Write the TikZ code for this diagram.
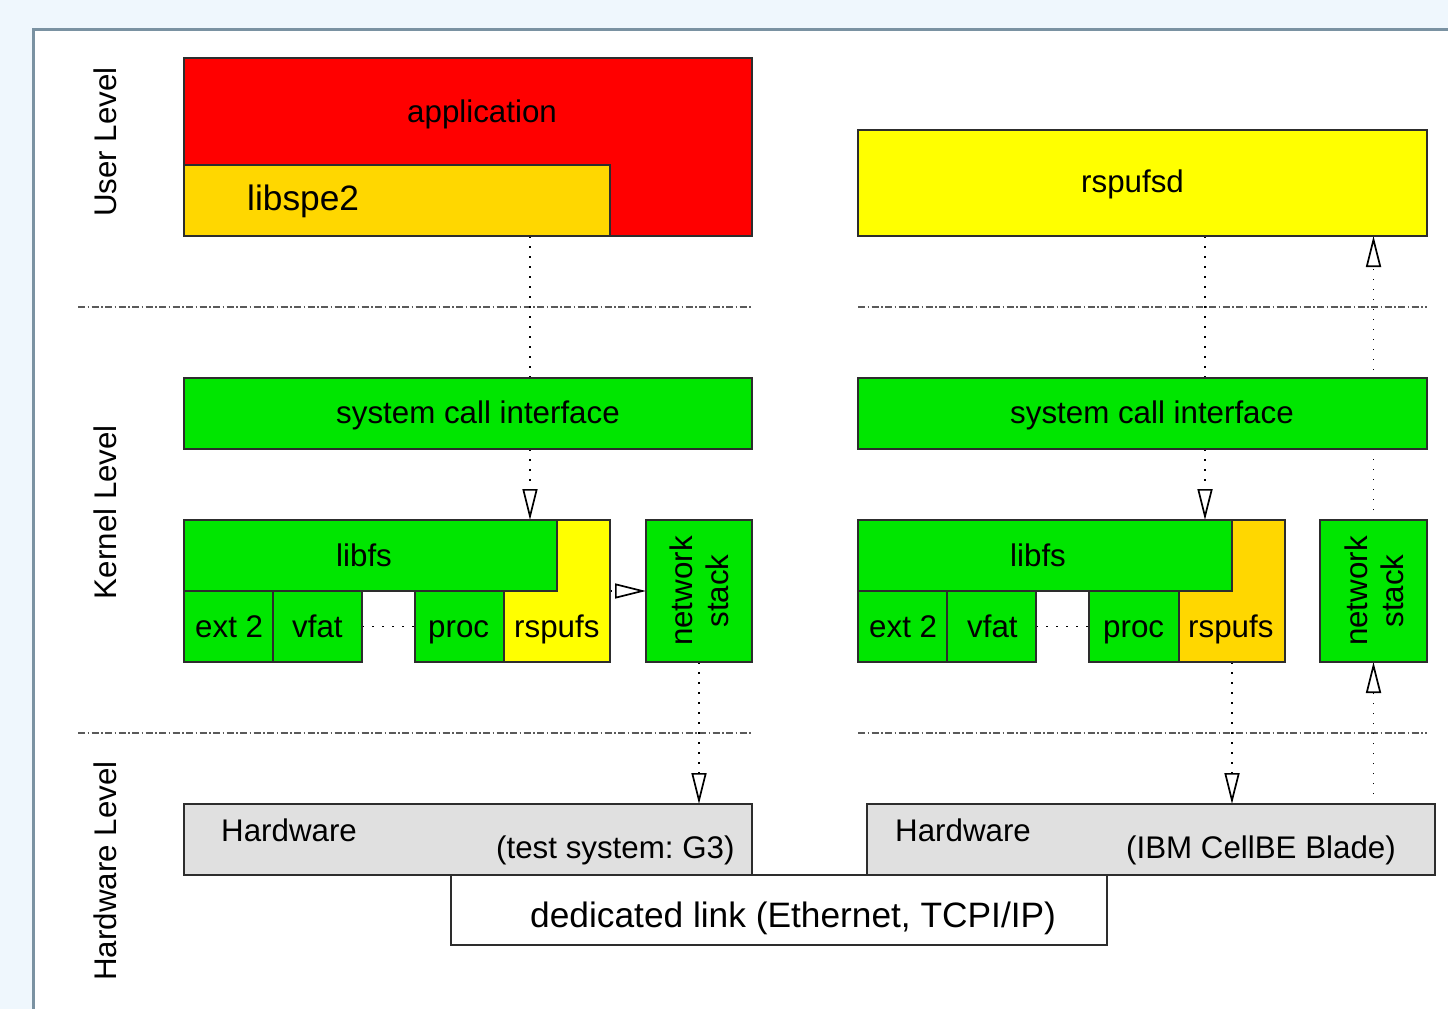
\documentclass[tikz,border=0pt]{standalone}
\usepackage{fontspec}
\setmainfont{Liberation Sans}
\usetikzlibrary{arrows.meta,fit}
\definecolor{pagebg}{RGB}{239,247,253}
\definecolor{framec}{RGB}{122,146,162}
\definecolor{boxgreen}{RGB}{0,230,0}
\definecolor{boxgold}{RGB}{255,215,0}
\definecolor{boxyellow}{RGB}{255,255,0}
\definecolor{boxgrey}{RGB}{224,224,224}
\definecolor{edgec}{RGB}{45,45,45}
\definecolor{sepc}{RGB}{90,90,90}
\pgfdeclarelayer{back}
\pgfdeclarelayer{wires}
\pgfsetlayers{back,wires,main}
\frenchspacing

\begin{document}
\begin{tikzpicture}[x=1pt,y=-1pt,
  box/.style={draw=edgec, line width=1.2pt, inner sep=0pt, outer sep=0pt},
  txt/.style={font=\fontsize{31.3}{36}\selectfont, inner sep=0pt, anchor=base west},
  bigtxt/.style={font=\fontsize{35.3}{40}\selectfont, inner sep=0pt, anchor=base west},
  lvl/.style={font=\fontsize{31.3}{36}\selectfont, rotate=90, anchor=base, inner sep=0pt},
  stacktxt/.style={font=\fontsize{31.3}{36}\selectfont, rotate=90, align=center, anchor=center, inner sep=0pt},
  wire/.style={line width=1.5pt, dash pattern=on 1.5pt off 8.5pt},
  opentip/.tip={Triangle[open, length=31pt, width=15pt, line width=1.7pt]},
  sep/.style={draw=sepc, line width=1.2pt, dash pattern=on 7pt off 2.5pt on 1.5pt off 2.5pt}
]
\useasboundingbox (0,0) rectangle (1448,1009);

% page and frame
\begin{pgfonlayer}{back}
  \fill[pagebg] (0,0) rectangle (1448,1009);
  \filldraw[fill=white, draw=framec, line width=3pt] (33.5,29.5) rectangle (1470,1030);
\end{pgfonlayer}

% level captions
\node[lvl] (luser) at (116,142) {User Level};
\node[lvl] (lkern) at (116,512) {Kernel Level};
\node[lvl] (lhw) at (116,871) {Hardware Level};

% ---------- left machine ----------
\node[box, fill=red, fit={(184,58) (752,236)}] (app) {};
\node[txt] (apptxt) at (407,122) {application};
\node[box, fill=boxgold, fit={(184,165) (610,236)}] (libspe) {};
\node[bigtxt] (libspetxt) at (247,210) {libspe2};

\node[box, fill=boxgreen, fit={(184,378) (752,449)}] (sysL) {};
\node[txt] (sysLtxt) at (336,423) {system call interface};

\node[box, fill=boxyellow, fit={(504,520) (610,662)}] (rspL) {};
\node[box, fill=boxgreen, fit={(184,520) (557,591)}] (libfsL) {};
\node[txt] (libfsLtxt) at (336,566) {libfs};
\node[box, fill=boxgreen, fit={(184,591) (273,662)}] (extL) {};
\node[box, fill=boxgreen, fit={(273,591) (362,662)}] (vfatL) {};
\node[box, fill=boxgreen, fit={(415,591) (504,662)}] (procL) {};
\node[txt] (extLtxt) at (195,637) {ext 2};
\node[txt] (vfatLtxt) at (292,637) {vfat};
\node[txt] (procLtxt) at (428,637) {proc};
\node[txt] (rspLtxt) at (514,637) {rspufs};

\node[box, fill=boxgreen, fit={(646,520) (752,662)}] (netL) {};
\node[stacktxt] (netLtxt) at (699,591) {network\\stack};

\node[box, fill=boxgrey, fit={(184,804) (752,875)}] (hwL) {};
\node[txt] (hwLtxt) at (221,841) {Hardware};
\node[txt] (hwLsub) at (496,858) {(test system: G3)};

% ---------- right machine ----------
\node[box, fill=boxyellow, fit={(858,130) (1427,236)}] (daemon) {};
\node[txt] (daemontxt) at (1081,192) {rspufsd};

\node[box, fill=boxgreen, fit={(858,378) (1427,449)}] (sysR) {};
\node[txt] (sysRtxt) at (1010,423) {system call interface};

\node[box, fill=boxgold, fit={(1179,520) (1285,662)}] (rspR) {};
\node[box, fill=boxgreen, fit={(858,520) (1232,591)}] (libfsR) {};
\node[txt] (libfsRtxt) at (1010,566) {libfs};
\node[box, fill=boxgreen, fit={(858,591) (947,662)}] (extR) {};
\node[box, fill=boxgreen, fit={(947,591) (1036,662)}] (vfatR) {};
\node[box, fill=boxgreen, fit={(1089,591) (1179,662)}] (procR) {};
\node[txt] (extRtxt) at (869,637) {ext 2};
\node[txt] (vfatRtxt) at (967,637) {vfat};
\node[txt] (procRtxt) at (1103,637) {proc};
\node[txt] (rspRtxt) at (1188,637) {rspufs};

\node[box, fill=boxgreen, fit={(1320,520) (1427,662)}] (netR) {};
\node[stacktxt] (netRtxt) at (1374,591) {network\\stack};

\node[box, fill=boxgrey, fit={(867,804) (1435,875)}] (hwR) {};
\node[txt] (hwRtxt) at (895,841) {Hardware};
\node[txt] (hwRsub) at (1126,858) {(IBM CellBE Blade)};

% link between the two machines
\node[box, fill=white, fit={(451,875) (1107,945)}] (link) {};
\node[bigtxt] (linktxt) at (530,927) {dedicated link (Ethernet, TCPI/IP)};

% columns of the vertical connectors
\coordinate (xL) at (530,0);
\coordinate (xR) at (1205,0);

% separators and connectors, behind the boxes
\begin{pgfonlayer}{wires}
  \draw[sep] (78,307) -- (752,307);
  \draw[sep] (858,307) -- (1427,307);
  \draw[sep] (78,733) -- (752,733);
  \draw[sep] (858,733) -- (1427,733);

  \draw[wire] (libspe.south -| xL) -- (sysL.north -| xL);
  \draw[wire, -opentip] (sysL.south -| xL) -- (libfsL.north -| xL);
  \draw[wire] (vfatL.east) -- (procL.west);
  \draw[wire, -opentip] (rspL.east |- netL.west) -- (netL.west);
  \draw[wire, -opentip] (netL.south) -- (hwL.north -| netL.south);

  \draw[wire] (daemon.south -| xR) -- (sysR.north -| xR);
  \draw[wire, -opentip] (sysR.south -| xR) -- (libfsR.north -| xR);
  \draw[wire] (vfatR.east) -- (procR.west);
  \draw[wire, -opentip] (rspR.south) -- (hwR.north -| rspR.south);
  \draw[wire, -opentip] (hwR.north -| netR.south) -- (netR.south);
  \draw[wire, -opentip] (netR.north) -- (daemon.south -| netR.north);
\end{pgfonlayer}
\end{tikzpicture}
\end{document}
